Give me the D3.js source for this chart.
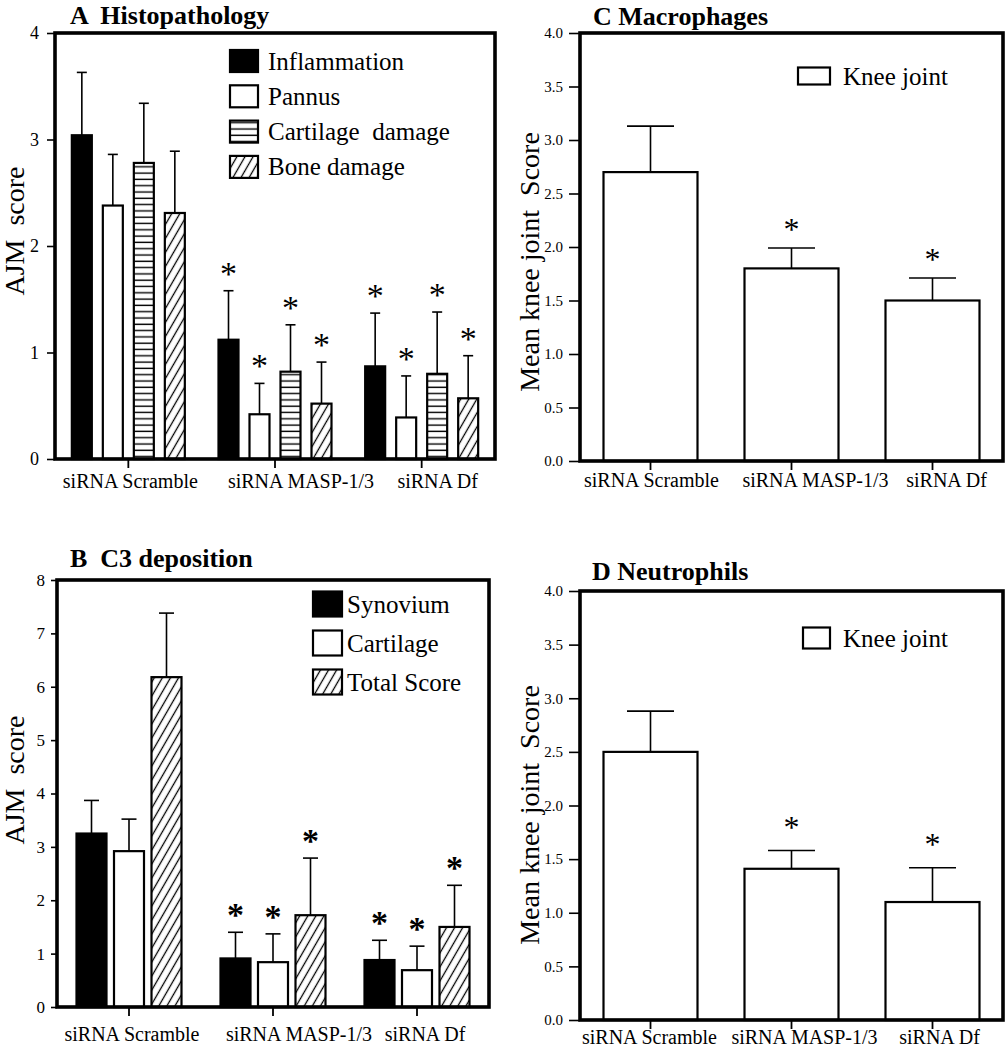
<!DOCTYPE html>
<html><head><meta charset="utf-8">
<script src="https://cdn.jsdelivr.net/npm/d3@7"></script>
<style>
body{margin:0;background:#fff}
svg{display:block;font-family:"Liberation Serif","Times New Roman",serif}
text{font-family:"Liberation Serif","Times New Roman",serif;fill:#000}
</style>
</head><body><svg id="c" width="1008" height="1050"></svg>
<script>
// ---------- DATA ----------
const groups = ["siRNA Scramble", "siRNA MASP-1/3", "siRNA Df"];
const significant = [false, true, true];

// Panel A – Histopathology
const histoSeries = ["Inflammation", "Pannus", "Cartilage  damage", "Bone damage"];
const inflammation = [3.04, 1.12, 0.87];
const inflammationErr = [0.59, 0.46, 0.50];
const pannus = [2.38, 0.42, 0.39];
const pannusErr = [0.48, 0.29, 0.39];
const cartilageDamage = [2.78, 0.82, 0.80];
const cartilageDamageErr = [0.56, 0.44, 0.58];
const boneDamage = [2.31, 0.52, 0.57];
const boneDamageErr = [0.58, 0.39, 0.40];
const histoTicks = [0, 1, 2, 3, 4];

// Panel B – C3 deposition
const c3Series = ["Synovium", "Cartilage", "Total Score"];
const synovium = [3.25, 0.91, 0.88];
const synoviumErr = [0.62, 0.49, 0.37];
const cartilage = [2.92, 0.84, 0.69];
const cartilageErr = [0.60, 0.53, 0.45];
const totalScore = [6.18, 1.72, 1.50];
const totalScoreErr = [1.20, 1.07, 0.78];
const c3Ticks = [0, 1, 2, 3, 4, 5, 6, 7, 8];

// Panels C & D – Knee joint
const kneeSeries = ["Knee joint"];
const macrophages = [2.70, 1.80, 1.50];
const macrophagesErr = [0.43, 0.19, 0.21];
const neutrophils = [2.50, 1.41, 1.10];
const neutrophilsErr = [0.38, 0.17, 0.32];
const kneeTicks = [0, 0.5, 1, 1.5, 2, 2.5, 3, 3.5, 4];

// ---------- DRAWING ----------
const FONT = '"Liberation Serif","Times New Roman",serif';
const svg = d3.select("#c");
const defs = svg.append("defs");
const hl = defs.append("pattern").attr("id", "hlines").attr("patternUnits", "userSpaceOnUse")
  .attr("width", 6).attr("height", 6.3);
hl.append("rect").attr("width", 6).attr("height", 6.3).attr("fill", "#fff");
hl.append("line").attr("x1", 0).attr("x2", 6).attr("y1", 3).attr("y2", 3).attr("stroke", "#000").attr("stroke-width", 1.4);
const ht = defs.append("pattern").attr("id", "hatch").attr("patternUnits", "userSpaceOnUse")
  .attr("width", 7).attr("height", 7).attr("patternTransform", "rotate(30)");
ht.append("rect").attr("width", 7).attr("height", 7).attr("fill", "#fff");
ht.append("line").attr("x1", 3.5).attr("x2", 3.5).attr("y1", 0).attr("y2", 7).attr("stroke", "#000").attr("stroke-width", 1.3);

function panel(o) {
  const g = svg.append("g");
  const x = d3.scaleBand().domain(groups).range([o.x0, o.x1]).padding(0);
  const y = d3.scaleLinear().domain([0, o.ymax]).range([o.yBottom, o.yTop]);
  const half = o.step * o.series.length / 2;
  const sub = d3.scaleBand().domain(o.series).range([-half, half])
    .paddingInner(o.pad).paddingOuter(o.pad / 2);
  const bw = sub.bandwidth();

  o.series.forEach((s, si) => {
    const data = groups.map((gn, gi) => ({ g: gn, v: o.values[si][gi], e: o.errs[si][gi], sig: significant[gi] }));
    const cx = d => x(d.g) + x.bandwidth() / 2 + sub(s) + bw / 2;
    g.selectAll(null).data(data).join("line")
      .attr("x1", cx).attr("x2", cx).attr("y1", d => y(d.v)).attr("y2", d => y(d.v + d.e))
      .attr("stroke", "#000").attr("stroke-width", 1.6);
    g.selectAll(null).data(data).join("line")
      .attr("x1", d => cx(d) - bw / 4).attr("x2", d => cx(d) + bw / 4)
      .attr("y1", d => y(d.v + d.e)).attr("y2", d => y(d.v + d.e))
      .attr("stroke", "#000").attr("stroke-width", 1.6);
    g.selectAll(null).data(data).join("rect")
      .attr("x", d => cx(d) - bw / 2).attr("y", d => y(d.v))
      .attr("width", bw).attr("height", d => y(0) - y(d.v))
      .attr("fill", o.fills[si]).attr("stroke", "#000").attr("stroke-width", 2.2);
    g.selectAll(null).data(data.filter(d => d.sig)).join("text")
      .attr("x", cx).attr("y", d => y(d.v + d.e) - o.starOff)
      .attr("text-anchor", "middle").style("font-family", FONT).style("font-size", o.starFs + "px")
      .style("font-weight", o.starBold ? "bold" : "normal").text("*");
  });

  // frame
  g.append("rect").attr("x", o.x0).attr("y", o.yTop).attr("width", o.x1 - o.x0).attr("height", o.yBottom - o.yTop)
    .attr("fill", "none").attr("stroke", "#000").attr("stroke-width", 3.6);

  // y axis
  const ya = g.append("g").attr("transform", `translate(${o.x0},0)`)
    .call(d3.axisLeft(y).tickValues(o.ticks).tickFormat(o.fmt).tickSize(o.tickLen).tickPadding(o.tickPad));
  ya.attr("font-family", null);
  ya.select(".domain").remove();
  ya.selectAll("line").attr("stroke-width", 1.6);
  ya.selectAll("text").style("font-family", FONT).style("font-size", o.tickFs + "px");

  // x axis
  const xa = g.append("g").attr("transform", `translate(0,${o.yBottom})`)
    .call(d3.axisBottom(x).tickSize(9));
  xa.attr("font-family", null);
  xa.select(".domain").remove();
  xa.selectAll("line").attr("stroke-width", 1.8);
  xa.selectAll("text").attr("y", o.xLabY).attr("dx", (d, i) => o.labShift[i])
    .style("font-family", FONT).style("font-size", "20px");

  // title
  g.append("text").attr("x", o.title.x).attr("y", o.title.y).style("font-family", FONT).style("font-size", "26px")
    .style("font-weight", "bold").style("white-space", "pre").text(o.title.text);

  // y label
  g.append("text").attr("transform", `translate(${o.ylab.x},${o.ylab.y}) rotate(-90)`)
    .attr("text-anchor", "middle").style("font-family", FONT).style("font-size", "28px")
    .style("white-space", "pre").text(o.ylab.text);

  // legend
  const L = o.legend;
  const lg = g.append("g");
  o.series.forEach((s, si) => {
    const cy = L.y0 + si * L.dy;
    lg.append("rect").attr("x", L.x).attr("y", cy - L.h / 2).attr("width", L.w).attr("height", L.h)
      .attr("fill", o.fills[si]).attr("stroke", "#000").attr("stroke-width", 2.2);
    lg.append("text").attr("x", L.tx).attr("y", cy + 8.5).style("font-family", FONT).style("font-size", "25px")
      .style("white-space", "pre").text(s);
  });
}

panel({
  x0: 55, x1: 495, yTop: 33, yBottom: 459, ymax: 4, ticks: histoTicks, fmt: d3.format("d"),
  tickLen: 8, tickPad: 8, tickFs: 18, xLabY: 15, labShift: [2, 26, 16],
  series: histoSeries,
  values: [inflammation, pannus, cartilageDamage, boneDamage],
  errs: [inflammationErr, pannusErr, cartilageDamageErr, boneDamageErr],
  fills: ["#000", "#fff", "url(#hlines)", "url(#hatch)"],
  step: 31, pad: 11 / 31, starFs: 34, starOff: 6, starBold: false,
  title: { x: 70, y: 24, text: "A  Histopathology" },
  ylab: { x: 24, y: 231, text: "AJM  score" },
  legend: { x: 230, y0: 61, dy: 35.3, w: 28, h: 22, tx: 268 }
});

panel({
  x0: 57, x1: 489, yTop: 580, yBottom: 1007, ymax: 8, ticks: c3Ticks, fmt: d3.format("d"),
  tickLen: 6, tickPad: 6, tickFs: 17, xLabY: 20, labShift: [3, 26, 8],
  series: c3Series,
  values: [synovium, cartilage, totalScore],
  errs: [synoviumErr, cartilageErr, totalScoreErr],
  fills: ["#000", "#fff", "url(#hatch)"],
  step: 37.5, pad: 0.2, starFs: 34, starOff: 6, starBold: true,
  title: { x: 70, y: 567, text: "B  C3 deposition" },
  ylab: { x: 24, y: 780, text: "AJM  score" },
  legend: { x: 313, y0: 604, dy: 39, w: 29, h: 25, tx: 347 }
});

panel({
  x0: 580, x1: 1003, yTop: 33, yBottom: 461, ymax: 4, ticks: kneeTicks, fmt: d3.format(".1f"),
  tickLen: 11, tickPad: 6, tickFs: 15, xLabY: 12, labShift: [1, 24, 14],
  series: kneeSeries,
  values: [macrophages], errs: [macrophagesErr],
  fills: ["#fff"],
  step: 94, pad: 0, starFs: 32, starOff: 8, starBold: false,
  title: { x: 593, y: 25, text: "C Macrophages" },
  ylab: { x: 539, y: 262, text: "Mean knee joint  Score" },
  legend: { x: 798, y0: 76, dy: 0, w: 32, h: 17, tx: 843 }
});

panel({
  x0: 580, x1: 1003, yTop: 591, yBottom: 1020, ymax: 4, ticks: kneeTicks, fmt: d3.format(".1f"),
  tickLen: 11, tickPad: 6, tickFs: 15, xLabY: 10, labShift: [-1, 13, 7],
  series: kneeSeries,
  values: [neutrophils], errs: [neutrophilsErr],
  fills: ["#fff"],
  step: 94, pad: 0, starFs: 32, starOff: 13, starBold: false,
  title: { x: 592, y: 580, text: "D Neutrophils" },
  ylab: { x: 539, y: 815, text: "Mean knee joint  Score" },
  legend: { x: 803, y0: 638, dy: 0, w: 27, h: 21, tx: 843 }
});
</script>
</body></html>
